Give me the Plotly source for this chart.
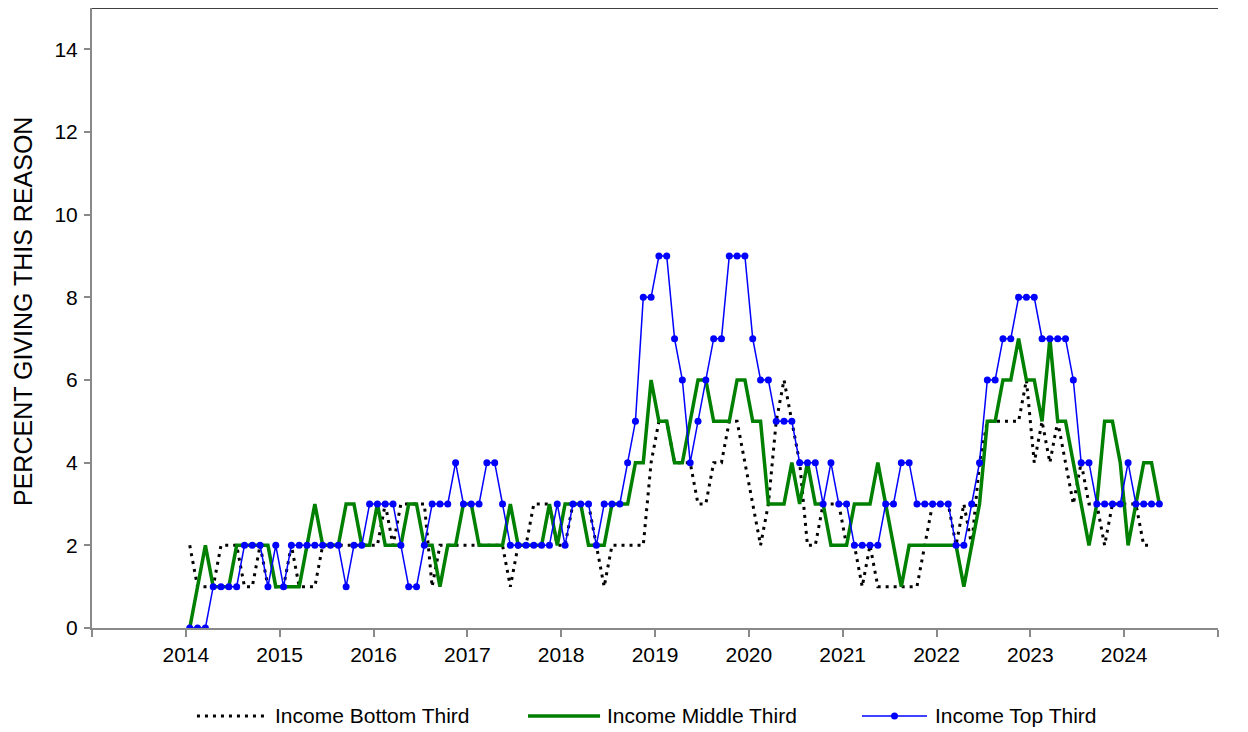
import plotly.graph_objects as go

# ---------------- data (monthly, Jan 2014 - May 2024) ----------------
start_year = 2014
series_names = ["Income Bottom Third", "Income Middle Third", "Income Top Third"]

bottom_third = [
    2, 1, 1, 1, 2, 2, 2, 1, 1, 2, 1, 1,      # 2014
    1, 2, 1, 1, 1, 2, 2, 2, 2, 2, 2, 2,      # 2015
    2, 3, 2, 3, 3, 3, 3, 1, 2, 2, 2, 2,      # 2016
    2, 2, 2, 2, 2, 1, 2, 2, 3, 3, 3, 2,      # 2017
    2, 3, 3, 3, 2, 1, 2, 2, 2, 2, 2, 4,      # 2018
    5, 5, 4, 4, 4, 3, 3, 4, 4, 5, 5, 4,      # 2019
    3, 2, 3, 5, 6, 5, 4, 2, 2, 3, 3, 3,      # 2020
    2, 2, 1, 2, 1, 1, 1, 1, 1, 1, 2, 3,      # 2021
    3, 3, 2, 3, 2, 4, 5, 5, 5, 5, 5, 6,      # 2022
    4, 5, 4, 5, 4, 3, 4, 3, 3, 2, 3, 3,      # 2023
    3, 3, 2, 2, None,                        # 2024
]
middle_third = [
    0, 1, 2, 1, 1, 1, 2, 2, 2, 2, 2, 1,
    1, 1, 1, 2, 3, 2, 2, 2, 3, 3, 2, 2,
    3, 2, 2, 2, 3, 3, 2, 2, 1, 2, 2, 3,
    3, 2, 2, 2, 2, 3, 2, 2, 2, 2, 3, 2,
    3, 3, 3, 2, 2, 2, 3, 3, 3, 4, 4, 6,
    5, 5, 4, 4, 5, 6, 6, 5, 5, 5, 6, 6,
    5, 5, 3, 3, 3, 4, 3, 4, 3, 3, 2, 2,
    2, 3, 3, 3, 4, 3, 2, 1, 2, 2, 2, 2,
    2, 2, 2, 1, 2, 3, 5, 5, 6, 6, 7, 6,
    6, 5, 7, 5, 5, 4, 3, 2, 3, 5, 5, 4,
    2, 3, 4, 4, 3,
]
top_third = [
    0, 0, 0, 1, 1, 1, 1, 2, 2, 2, 1, 2,
    1, 2, 2, 2, 2, 2, 2, 2, 1, 2, 2, 3,
    3, 3, 3, 2, 1, 1, 2, 3, 3, 3, 4, 3,
    3, 3, 4, 4, 3, 2, 2, 2, 2, 2, 2, 3,
    2, 3, 3, 3, 2, 3, 3, 3, 4, 5, 8, 8,
    9, 9, 7, 6, 4, 5, 6, 7, 7, 9, 9, 9,
    7, 6, 6, 5, 5, 5, 4, 4, 4, 3, 4, 3,
    3, 2, 2, 2, 2, 3, 3, 4, 4, 3, 3, 3,
    3, 3, 2, 2, 3, 4, 6, 6, 7, 7, 8, 8,
    8, 7, 7, 7, 7, 6, 4, 4, 3, 3, 3, 3,
    4, 3, 3, 3, 3,
]

year_ticks = list(range(2013, 2026))
year_labels = [""] + [str(y) for y in range(2014, 2025)] + [""]
y_ticks = list(range(0, 15, 2))
y_title = "PERCENT GIVING THIS REASON"

# month centres expressed as decimal years
months = [start_year + (k + 0.5) / 12 for k in range(len(top_third))]

FONT = "Liberation Sans, Arial, sans-serif"
AXIS_GRAY = "#898989"
BLACK = "#000000"
GREEN = "#008000"
BLUE = "#0000FF"
BLACK_DASH = "3px,5px"

fig = go.Figure()
fig.add_trace(go.Scatter(x=months, y=bottom_third, name=series_names[0], mode="lines",
                         line=dict(color=BLACK, width=3, dash=BLACK_DASH),
                         connectgaps=False, showlegend=False))
fig.add_trace(go.Scatter(x=months, y=middle_third, name=series_names[1], mode="lines",
                         line=dict(color=GREEN, width=3.5), showlegend=False))
fig.add_trace(go.Scatter(x=months, y=top_third, name=series_names[2], mode="lines+markers",
                         line=dict(color=BLUE, width=1.5),
                         marker=dict(color=BLUE, size=7), showlegend=False))

# the page body adds an 8px offset, so the figure is 8px smaller than the window
fig.update_layout(
    width=1240, height=724, autosize=False,
    margin=dict(l=84, r=30, t=0, b=104, pad=0),
    paper_bgcolor="white", plot_bgcolor="white",
    font=dict(family=FONT, size=21, color="black"),
    showlegend=False,
)
fig.update_xaxes(range=[2013, 2025], tickmode="array", tickvals=year_ticks, ticktext=year_labels,
                 ticks="outside", ticklen=7, tickwidth=2, tickcolor=AXIS_GRAY,
                 showline=True, linecolor=AXIS_GRAY, linewidth=2,
                 showgrid=False, zeroline=False, tickfont=dict(size=21, color="black"))
fig.update_yaxes(range=[0, 15], tickmode="array", tickvals=y_ticks,
                 ticks="outside", ticklen=6, tickwidth=2, tickcolor=AXIS_GRAY,
                 showline=True, linecolor=AXIS_GRAY, linewidth=2,
                 showgrid=False, zeroline=False, tickfont=dict(size=21, color="black"),
                 ticklabelstandoff=2)

# top border of plot area
fig.add_shape(type="line", xref="paper", yref="paper", x0=0, x1=1, y0=1, y1=1,
              line=dict(color="black", width=1.5))

# y-axis title
fig.add_annotation(text=y_title, textangle=-90, xref="paper", yref="paper",
                   x=0, y=0.5, xanchor="center", yanchor="middle", xshift=-69, yshift=6,
                   showarrow=False, font=dict(size=25, color="black", family=FONT))

# manual legend (below plot)
leg_y = -0.1418
leg_items = [
    (series_names[0], 0.0932, 0.1563, 0.1607, dict(color=BLACK, width=3, dash=BLACK_DASH), False),
    (series_names[1], 0.3872, 0.4512, 0.4556, dict(color=GREEN, width=3.5), False),
    (series_names[2], 0.6838, 0.7416, 0.7469, dict(color=BLUE, width=1.5), True),
]
for name, lx0, lx1, tx, lstyle, has_marker in leg_items:
    fig.add_shape(type="line", xref="paper", yref="paper", x0=lx0, x1=lx1, y0=leg_y, y1=leg_y,
                  line=lstyle)
    if has_marker:
        xm = (lx0 + lx1) / 2
        fig.add_shape(type="circle", xref="paper", yref="paper", xsizemode="pixel",
                      ysizemode="pixel", xanchor=xm, yanchor=leg_y,
                      x0=-3.5, x1=3.5, y0=-3.5, y1=3.5,
                      fillcolor=BLUE, line=dict(color=BLUE, width=0))
    fig.add_annotation(text=name, xref="paper", yref="paper", x=tx, y=leg_y,
                       xanchor="left", yanchor="middle", showarrow=False,
                       font=dict(size=21, color="black", family=FONT))

fig.write_html("out.html")
